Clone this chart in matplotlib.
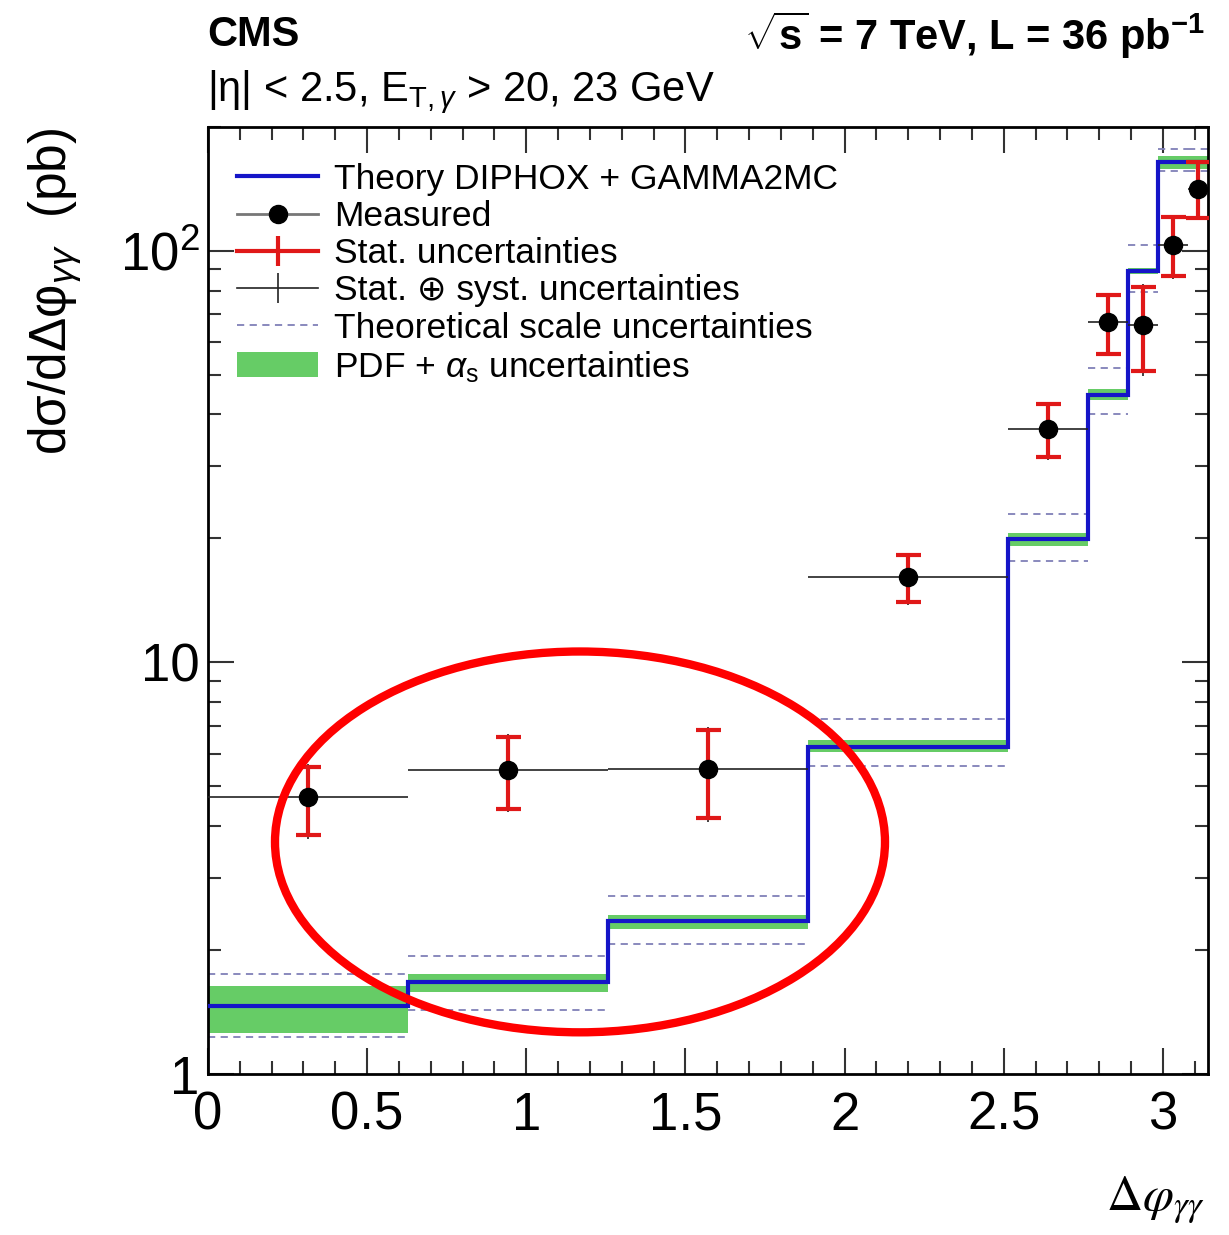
import numpy as np
import matplotlib
matplotlib.use("Agg")
import matplotlib.pyplot as plt
from matplotlib.lines import Line2D
from matplotlib.patches import Patch, Ellipse
from matplotlib.ticker import MultipleLocator, LogLocator, NullFormatter

plt.rcParams['font.family'] = ['Liberation Sans', 'DejaVu Sans']
plt.rcParams['mathtext.fontset'] = 'custom'
plt.rcParams['mathtext.rm'] = 'Liberation Sans'
plt.rcParams['mathtext.it'] = 'Liberation Sans:italic'
plt.rcParams['mathtext.bf'] = 'Liberation Sans:bold'

# bin edges in units of pi
edges_pi = [0, 0.2, 0.4, 0.6, 0.8, 0.88, 0.92, 0.95, 0.98, 1.0]

# measured cross section (pb) and uncertainties
measured = [4.70, 5.48, 5.51, 16.1, 36.8, 67.1, 66.1, 103, 141]
stat_up = [5.56, 6.58, 6.83, 18.2, 42.5, 78.0, 81.6, 120.8, 164]
stat_dn = [3.80, 4.40, 4.19, 14.0, 31.5, 56.1, 50.9, 86.6, 119.7]
tot_up = [5.65, 6.70, 6.95, 18.4, 43.0, 78.8, 83.0, 122.0, 166]
tot_dn = [3.72, 4.32, 4.10, 13.8, 31.0, 55.5, 49.5, 85.5, 118.5]

# theory DIPHOX + GAMMA2MC
theory = [1.46, 1.67, 2.35, 6.24, 19.9, 44.7, 89.1, 164, 164]
pdf_up = [1.64, 1.75, 2.43, 6.47, 20.6, 46.0, 90.5, 170, 170]
pdf_dn = [1.26, 1.58, 2.25, 6.07, 19.2, 43.3, 87.7, 158, 158]
scale_up = [1.75, 1.93, 2.70, 7.27, 22.9, 51.9, 103, 177, 177]
scale_dn = [1.23, 1.43, 2.07, 5.61, 17.6, 40.0, 79.5, 156, 156]

edges = np.array(edges_pi) * np.pi
centers = 0.5 * (edges[:-1] + edges[1:])
halfw = 0.5 * (edges[1:] - edges[:-1])
meas = np.array(measured)

fig = plt.figure(figsize=(12.29, 12.35), dpi=100)
ax = fig.add_axes([208 / 1229, 1 - 1074 / 1235, 1000 / 1229, 947.3 / 1235])

ax.stairs(pdf_up, edges, baseline=pdf_dn, fill=True, color='#66cc66', lw=0, zorder=1)
ax.hlines(scale_up, edges[:-1], edges[1:], colors='#8080b8', linestyles=(0, (4, 3)), lw=1.3, zorder=2)
ax.hlines(scale_dn, edges[:-1], edges[1:], colors='#8080b8', linestyles=(0, (4, 3)), lw=1.3, zorder=2)
ax.stairs(theory, edges, baseline=None, color='#1515c8', lw=3, zorder=3)

ax.errorbar(centers, meas, xerr=halfw,
            yerr=[meas - np.array(tot_dn), np.array(tot_up) - meas],
            fmt='none', ecolor='#222222', elinewidth=1.2, capsize=0, zorder=4)
ax.errorbar(centers, meas,
            yerr=[meas - np.array(stat_dn), np.array(stat_up) - meas],
            fmt='none', ecolor='#e01818', elinewidth=3, capsize=9, capthick=3, zorder=5)
ax.plot(centers, meas, 'o', color='black', ms=13, zorder=6)

ax.set_yscale('log')
ax.set_xlim(0, np.pi)
ax.set_ylim(1, 200)

ax.xaxis.set_major_locator(MultipleLocator(0.5))
ax.xaxis.set_minor_locator(MultipleLocator(0.1))
ax.set_xticks([0, 0.5, 1, 1.5, 2, 2.5, 3])
ax.set_xticklabels(['0', '0.5', '1', '1.5', '2', '2.5', '3'])
ax.set_yticks([1, 10, 100])
ax.set_yticklabels(['1', '10', '$10^2$'])
ax.yaxis.set_minor_locator(LogLocator(base=10, subs=np.arange(2, 10)))
ax.yaxis.set_minor_formatter(NullFormatter())

ax.tick_params(which='both', direction='in', top=True, right=True, width=1.5, color='#333333')
ax.tick_params(which='major', length=19, labelsize=38)
ax.tick_params(which='minor', length=9.5)
ax.tick_params(axis='x', which='major', pad=12)
ax.tick_params(axis='y', which='major', pad=6)
for s in ax.spines.values():
    s.set_linewidth(2)

handles = [
    Line2D([], [], color='#1515c8', lw=3),
    Line2D([], [], color='#777777', lw=2, marker='o', mfc='black', mec='black', ms=13),
    Line2D([], [], color='#e01818', lw=3, marker='|', ms=22, mew=3),
    Line2D([], [], color='#222222', lw=1.2, marker='|', ms=22, mew=1.2),
    Line2D([], [], color='#8080b8', lw=1.3, ls=(0, (4, 3))),
    Patch(facecolor='#66cc66', edgecolor='none'),
]
labels = ['Theory DIPHOX + GAMMA2MC', 'Measured', 'Stat. uncertainties',
          'Stat. \u2295 syst. uncertainties', 'Theoretical scale uncertainties',
          r'PDF + $\alpha_{\mathrm{s}}$ uncertainties']
ax.legend(handles, labels, loc='upper left', bbox_to_anchor=(0.029, 0.962),
          frameon=False, fontsize=25.5, borderpad=0, borderaxespad=0,
          handlelength=2.3, handletextpad=0.45, labelspacing=0.12, numpoints=1)

ax.add_patch(Ellipse((0.372, 0.245), 0.61, 0.402, transform=ax.transAxes,
                     fill=False, edgecolor='#ff0000', lw=6, clip_on=False, zorder=10))

fig.text(207 / 1229, 1 - 35 / 1235, 'CMS', fontsize=30, fontweight='bold', ha='left', va='center')
fig.text(1205 / 1229, 1 - 35 / 1235, r'$\sqrt{\mathbf{s}}$ = 7 TeV, L = 36 pb$^{\mathbf{-1}}$',
         fontsize=30, fontweight='bold', ha='right', va='center')
fig.text(207 / 1229, 1 - 92 / 1235, r'|η| < 2.5, E$_{\mathrm{T},\gamma}$ > 20, 23 GeV',
         fontsize=30, ha='left', va='center')
fig.text(55 / 1229, 1 - 128 / 1235, r'dσ/dΔφ$_{\gamma\gamma}$  (pb)', fontsize=37,
         rotation=90, ha='center', va='top')
fig.text(1205 / 1229, 1 - 1200 / 1235, r'$\Delta\varphi_{\gamma\gamma}$', fontsize=36,
         math_fontfamily='stix', ha='right', va='center')

plt.savefig('out.png', dpi=100)
